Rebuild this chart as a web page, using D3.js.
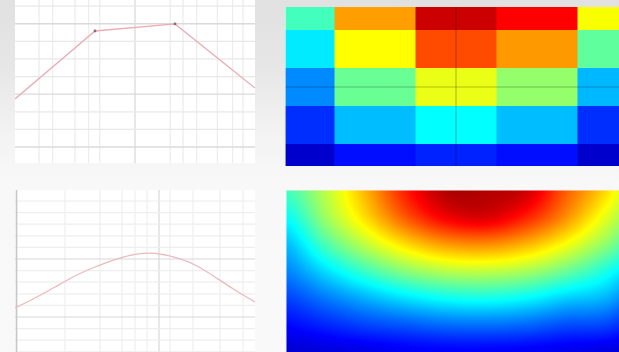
<!DOCTYPE html>
<html>
<head>
<meta charset="utf-8">
<script src="https://cdn.jsdelivr.net/npm/d3@7"></script>
<style>
  html, body { margin: 0; padding: 0; overflow: hidden; background: #f8f8f8; }
  svg { display: block; }
</style>
</head>
<body>
<svg id="chart" width="619" height="352"></svg>
<script>
// ---- Piecewise profile (top left) ----
const profileX = [0, 1, 2, 3];
const profileY = [3.73, 7.59, 7.99, 4.35];
const profileGridX = [0.3, 0.47, 0.75, 0.92, 1.06, 1.5, 1.94, 2.1, 2.27, 2.53, 2.72, 2.85];
const profileGridXMajor = [1.5];
const profileGridY = [1, 2, 3, 4, 5, 6, 7, 8, 9];
const profileGridYMajor = [1, 4, 8];

// ---- Smooth profile (bottom left) ----
const curveX = [0, 1, 2, 3, 4, 5, 6, 7, 8, 9, 10, 11, 12];
const curveY = [0.155, 0.328, 0.517, 0.707, 0.862, 0.991, 1.078, 1.098, 1.026, 0.897, 0.690, 0.466, 0.259];
const curveGridX = [2.5, 4.25, 5.35, 6.0, 6.6, 7.2, 7.75, 8.9, 10.25, 11.4];
const curveGridXMajor = [7.2];
const curveGridY = [-0.6, -0.4, -0.2, 0, 0.2, 0.4, 0.6, 0.8, 1, 1.2, 1.4, 1.6, 1.8, 2, 2.2];
const curveGridYMajor = [0, 1];

// ---- Cell map (top right), rows top to bottom ----
const cellCols = [0, 1, 2, 3, 4];
const cellRows = [0, 1, 2, 3, 4];
const cellValues = [
  [0.44, 0.72, 0.925, 0.875, 0.62],
  [0.355, 0.625, 0.80, 0.725, 0.47],
  [0.26, 0.48, 0.605, 0.52, 0.305],
  [0.17, 0.31, 0.375, 0.31, 0.17],
  [0.075, 0.14, 0.156, 0.14, 0.075]
];
const cellAxisX = 2, cellAxisY = 2;

// ---- Smooth field (bottom right), rows top to bottom ----
const fieldRow0 = [0.44, 0.56, 0.70, 0.85, 0.95, 0.95, 0.925, 0.785, 0.66, 0.50];
const fieldRow1 = [0.38, 0.53, 0.66, 0.79, 0.885, 0.91, 0.845, 0.735, 0.60, 0.47];
const fieldRow2 = [0.31, 0.45, 0.565, 0.66, 0.725, 0.74, 0.70, 0.62, 0.515, 0.40];
const fieldRow3 = [0.255, 0.345, 0.435, 0.51, 0.555, 0.565, 0.54, 0.48, 0.40, 0.30];
const fieldRow4 = [0.19, 0.245, 0.30, 0.35, 0.385, 0.395, 0.375, 0.33, 0.30, 0.21];
const fieldRow5 = [0.13, 0.16, 0.19, 0.21, 0.23, 0.235, 0.225, 0.20, 0.19, 0.13];
const fieldRow6 = [0.08, 0.09, 0.10, 0.115, 0.12, 0.12, 0.115, 0.105, 0.095, 0.075];
const fieldValues = [fieldRow0, fieldRow1, fieldRow2, fieldRow3, fieldRow4, fieldRow5, fieldRow6];

// Jet colour map
function jet(t) {
  const c = v => Math.round(255 * Math.max(0, Math.min(1, v)));
  const r = c(1.5 - Math.abs(4 * t - 3));
  const g = c(1.5 - Math.abs(4 * t - 2));
  const b = c(1.5 - Math.abs(4 * t - 1));
  return `rgb(${r},${g},${b})`;
}
const colour = d3.scaleSequential(jet).domain([0, 1]);

const svg = d3.select("#chart");
const defs = svg.append("defs");

// page background
const bg = defs.append("linearGradient").attr("id", "bg")
  .attr("x1", 0).attr("y1", 0).attr("x2", 0).attr("y2", 1);
bg.append("stop").attr("offset", 0).attr("stop-color", "#e1e1e1");
bg.append("stop").attr("offset", 0.18).attr("stop-color", "#e6e6e6");
bg.append("stop").attr("offset", 0.38).attr("stop-color", "#f3f3f3");
bg.append("stop").attr("offset", 0.52).attr("stop-color", "#f8f8f8");
bg.append("stop").attr("offset", 1).attr("stop-color", "#f9f9f9");
svg.append("rect").attr("width", 619).attr("height", 352).attr("fill", "url(#bg)");

function clip(id, x, y, w, h) {
  defs.append("clipPath").attr("id", id).append("rect")
    .attr("x", x).attr("y", y).attr("width", w).attr("height", h);
  return `url(#${id})`;
}

// ================= Top left: piecewise profile =================
{
  const x = d3.scaleLinear().domain([0, 3]).range([15, 255]);
  const y = d3.scaleLinear().domain([0, 9.35]).range([164.6, 0]);
  const g = svg.append("g").attr("clip-path", clip("c1", 15, 0, 240, 163));
  g.append("rect").attr("x", 15).attr("y", -5).attr("width", 240).attr("height", 168).attr("fill", "#ffffff");
  g.selectAll("line.gx").data(profileGridX).join("line")
    .attr("x1", d => x(d)).attr("x2", d => x(d)).attr("y1", 0).attr("y2", 163)
    .attr("stroke", d => profileGridXMajor.includes(d) ? "#dadada" : "#ededed")
    .attr("stroke-width", 1.3);
  g.selectAll("line.gy").data(profileGridY).join("line")
    .attr("x1", 15).attr("x2", 255).attr("y1", d => y(d)).attr("y2", d => y(d))
    .attr("stroke", d => profileGridYMajor.includes(d) ? "#dadada" : "#e8e8e8")
    .attr("stroke-width", 1.3);
  const pts = profileX.map((d, i) => [d, profileY[i]]);
  g.append("path").datum(pts)
    .attr("d", d3.line().x(d => x(d[0])).y(d => y(d[1])))
    .attr("fill", "none").attr("stroke", "#eaadb4").attr("stroke-width", 1.3);
  // vertex markers on the interior points
  g.selectAll("circle").data(pts.slice(1, -1)).join("circle")
    .attr("cx", d => x(d[0])).attr("cy", d => y(d[1])).attr("r", 1.4)
    .attr("fill", "#8c6a72");
}

// ================= Bottom left: smooth profile =================
{
  const x = d3.scaleLinear().domain([0, 12]).range([15, 255]);
  const y = d3.scaleLinear().domain([0, 1]).range([317, 259]);
  const g = svg.append("g").attr("clip-path", clip("c2", 15, 190, 240, 162));
  g.append("rect").attr("x", 15).attr("y", 190).attr("width", 240).attr("height", 170).attr("fill", "#ffffff");
  g.selectAll("line.gx").data(curveGridX).join("line")
    .attr("x1", d => x(d)).attr("x2", d => x(d)).attr("y1", 190).attr("y2", 352)
    .attr("stroke", d => curveGridXMajor.includes(d) ? "#d8d8d8" : "#eeeeee")
    .attr("stroke-width", 1.2);
  g.selectAll("line.gy").data(curveGridY).join("line")
    .attr("x1", 15).attr("x2", 255).attr("y1", d => y(d)).attr("y2", d => y(d))
    .attr("stroke", d => curveGridYMajor.includes(d) ? "#d8d8d8" : "#eeeeee")
    .attr("stroke-width", 1.2);
  g.append("line").attr("x1", 16.5).attr("x2", 16.5).attr("y1", 190).attr("y2", 352)
    .attr("stroke", "#c6c6c6").attr("stroke-width", 1.6);
  const pts = curveX.map((d, i) => [d, curveY[i]]);
  g.append("path").datum(pts)
    .attr("d", d3.line().curve(d3.curveNatural).x(d => x(d[0])).y(d => y(d[1])))
    .attr("fill", "none").attr("stroke", "#ebb9bf").attr("stroke-width", 1.3);
}

// ================= Top right: cell map =================
{
  const x = d3.scaleLinear().domain([-0.5, 4.5]).range([253.5, 658.5]);
  const y = d3.scaleLinear().domain([-0.5, 4.5]).range([-8, 182]);
  defs.append("filter").attr("id", "soft").attr("x", "-5%").attr("y", "-5%").attr("width", "110%").attr("height", "110%")
    .append("feGaussianBlur").attr("stdDeviation", 0.6);
  const outer = svg.append("g").attr("clip-path", clip("c3", 285, 7, 340, 159));
  const g = outer.append("g").attr("filter", "url(#soft)");
  const cells = [];
  cellRows.forEach((r, j) => cellCols.forEach((c, i) => cells.push({ c, r, v: cellValues[j][i] })));
  g.selectAll("rect").data(cells).join("rect")
    .attr("x", d => x(d.c - 0.5)).attr("y", d => y(d.r - 0.5))
    .attr("width", x(1) - x(0) + 0.5).attr("height", y(1) - y(0) + 0.5)
    .attr("fill", d => colour(d.v));
  g.append("line").attr("x1", x(cellAxisX)).attr("x2", x(cellAxisX)).attr("y1", 0).attr("y2", 170)
    .attr("stroke", "rgba(0,0,0,0.25)").attr("stroke-width", 1.2);
  g.append("line").attr("x1", 280).attr("x2", 625).attr("y1", y(cellAxisY)).attr("y2", y(cellAxisY))
    .attr("stroke", "rgba(0,0,0,0.25)").attr("stroke-width", 1.2);
  outer.append("line").attr("x1", 285.5).attr("x2", 285.5).attr("y1", 7).attr("y2", 166)
    .attr("stroke", "rgba(255,255,255,0.55)").attr("stroke-width", 1);
}

// ================= Bottom right: smooth field =================
{
  const nR = fieldValues.length, nC = fieldValues[0].length;
  const x = d3.scaleLinear().domain([0, nC - 1]).range([286, 286 + 40 * (nC - 1)]);
  const y = d3.scaleLinear().domain([0, nR - 1]).range([190, 352]);
  const X0 = 286, Y0 = 190, W = 333, H = 162;
  const cr = (p0, p1, p2, p3, t) =>
    0.5 * (2 * p1 + (-p0 + p2) * t + (2 * p0 - 5 * p1 + 4 * p2 - p3) * t * t + (-p0 + 3 * p1 - 3 * p2 + p3) * t * t * t);
  const at = (r, c) => fieldValues[Math.max(0, Math.min(nR - 1, r))][Math.max(0, Math.min(nC - 1, c))];
  function sample(gx, gy) {
    const ix = Math.floor(gx), iy = Math.floor(gy);
    const tx = gx - ix, ty = gy - iy;
    const rows = [-1, 0, 1, 2].map(k =>
      cr(at(iy + k, ix - 1), at(iy + k, ix), at(iy + k, ix + 1), at(iy + k, ix + 2), tx));
    return cr(rows[0], rows[1], rows[2], rows[3], ty);
  }
  const canvas = document.createElement("canvas");
  canvas.width = W; canvas.height = H;
  const ctx = canvas.getContext("2d");
  const img = ctx.createImageData(W, H);
  for (let j = 0; j < H; j++) {
    const gy = Math.max(0, Math.min(nR - 1, y.invert(Y0 + j + 0.5)));
    for (let i = 0; i < W; i++) {
      const gx = Math.max(0, Math.min(nC - 1, x.invert(X0 + i + 0.5)));
      const v = Math.max(0, Math.min(1, sample(gx, gy)));
      const c = d3.rgb(colour(v));
      const k = 4 * (j * W + i);
      img.data[k] = c.r; img.data[k + 1] = c.g; img.data[k + 2] = c.b; img.data[k + 3] = 255;
    }
  }
  ctx.putImageData(img, 0, 0);
  svg.append("image").attr("x", X0).attr("y", Y0).attr("width", W).attr("height", H)
    .attr("href", canvas.toDataURL());
  svg.append("line").attr("x1", 286.5).attr("x2", 286.5).attr("y1", 190).attr("y2", 352)
    .attr("stroke", "rgba(255,255,255,0.45)").attr("stroke-width", 1);
  svg.append("line").attr("x1", 286).attr("x2", 619).attr("y1", 190.5).attr("y2", 190.5)
    .attr("stroke", "rgba(255,235,235,0.5)").attr("stroke-width", 1);
}
</script>
</body>
</html>
